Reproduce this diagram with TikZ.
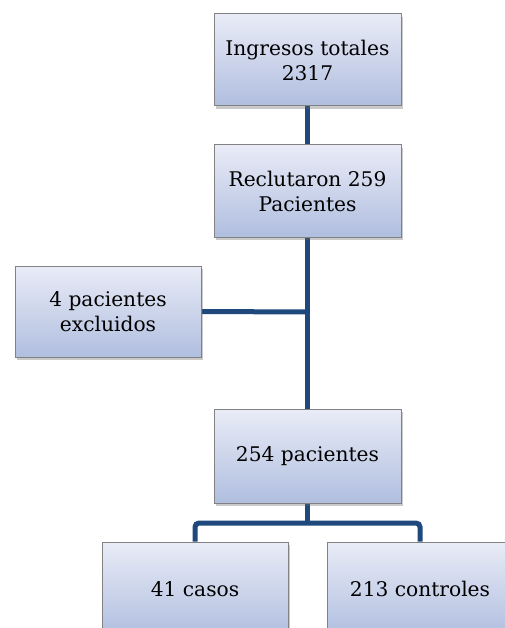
\documentclass[tikz,border=0pt]{standalone}
\usepackage{fontspec}
\setmainfont{DejaVu Serif}
\usetikzlibrary{shadows,backgrounds}
\definecolor{linkblue}{RGB}{31,73,125}
\definecolor{boxtop}{RGB}{233,236,247}
\definecolor{boxbot}{RGB}{176,190,223}
\definecolor{boxedge}{RGB}{130,130,130}
\tikzset{
  flowbox/.style={draw=boxedge, line width=1pt, top color=boxtop, bottom color=boxbot,
    minimum width=187pt, minimum height=92pt, inner sep=0pt, align=center,
    font=\fontsize{20.2pt}{25pt}\selectfont,
    drop shadow={shadow xshift=2pt, shadow yshift=-3pt, opacity=0.35, fill=black!60}},
  link/.style={draw=linkblue, line width=5pt, rounded corners=4pt}
}
\begin{document}
\begin{tikzpicture}[x=1pt,y=-1pt]
  \useasboundingbox (0,0) rectangle (504,628);
  \node[flowbox] (ing) at (307.5,60) {Ingresos totales\\2317};
  \node[flowbox] (rec) at (307.5,191) {Reclutaron 259\\Pacientes};
  \node[flowbox, minimum width=186pt, minimum height=91pt] (exc) at (108,311.5) {4 pacientes\\excluidos};
  \node[flowbox, minimum height=94pt] (pac) at (307.5,456) {254 pacientes};
  \node[flowbox, minimum width=186pt, minimum height=94pt] (cas) at (195,589) {41 casos};
  \node[flowbox, minimum width=186pt, minimum height=94pt] (con) at (420,589) {213 controles};
  \coordinate (split) at (307,312);
  \coordinate (fork) at (307,523);
  \begin{scope}[on background layer]
    \draw[link] (ing.south -| split) -- (rec.north -| split);
    \draw[link] (rec.south -| split) -- (pac.north -| split);
    \draw[link] (exc.east) -- (split);
    \draw[link] (pac.south -| fork) -- (fork);
    \draw[link] (cas.north) -- (cas.north |- fork) -- (con.north |- fork) -- (con.north);
  \end{scope}
\end{tikzpicture}
\end{document}
